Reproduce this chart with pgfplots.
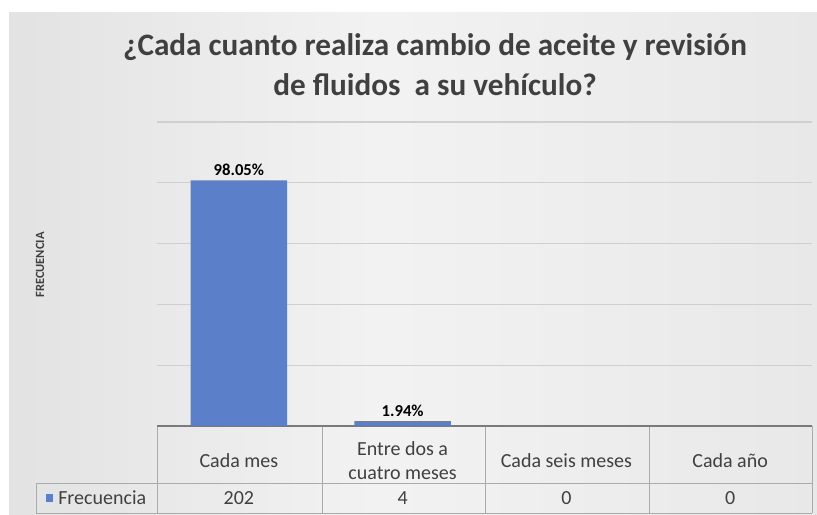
\documentclass[border=0pt]{standalone}
\usepackage{pgfplots}
\pgfplotsset{compat=1.18}
\usepackage{fontspec}
\setmainfont{Carlito}
\definecolor{barblue}{HTML}{5B7FC8}
\definecolor{txt}{HTML}{404040}
\definecolor{gridc}{HTML}{CFCFCF}
\definecolor{tline}{HTML}{ABABAB}
\definecolor{aline}{HTML}{7A7A7A}
\pgfdeclarehorizontalshading{chartbg}{100bp}{%
  color(0bp)=(black!22); color(22bp)=(black!12); color(48bp)=(black!5);
  color(75bp)=(black!9); color(100bp)=(black!16)}

\begin{document}
\begin{tikzpicture}[x=0.75pt,y=0.75pt]
% page and background (units: pixels of the 817x514 picture, y upwards)
\useasboundingbox (0,0) rectangle (817,514);
\fill[white] (0,0) rectangle (817,514);
\shade[shading=chartbg] (9,0) rectangle (817,501);

% title
\node[font=\bfseries\fontsize{23.4}{30}\selectfont, text=txt, align=center] at (435,449)
  {¿Cada cuanto realiza cambio de aceite y revisión\\de fluidos\ \ a su vehículo?};

% y label
\node[rotate=90, font=\bfseries\fontsize{9.4}{11}\selectfont, text=txt] at (40,249) {FRECUENCIA};

\begin{axis}[
  at={(117.75pt,66pt)}, anchor=south west,
  scale only axis, width=491.25pt, height=228pt,
  xmin=-0.5, xmax=3.5, ymin=0, ymax=250,
  ybar, bar width=0.59,
  ytick={50,100,...,250}, yticklabels={},
  ymajorgrids, grid style={gridc, line width=0.8pt},
  axis line style={draw=none}, major tick style={draw=none},
  xtick={0,1,2,3},
  xticklabels={Cada mes, {Entre dos a\\cuatro meses}, Cada seis meses, Cada año},
  xticklabel style={font=\fontsize{15}{18}\selectfont, text=txt, align=center,
    anchor=center, yshift=-21.4pt},
  clip=false,
  nodes near coords, point meta=explicit symbolic,
  every node near coord/.append style={font=\bfseries\fontsize{12.5}{14}\selectfont, text=black},
]
\addplot[fill=barblue, draw=none] coordinates {(0,202)[98.05\%] (1,4)[1.94\%] (2,0)[] (3,0)[]};
% data table values
\node[font=\fontsize{15}{18}\selectfont, text=txt] at (axis cs:0,0) [yshift=-54pt] {202};
\node[font=\fontsize{15}{18}\selectfont, text=txt] at (axis cs:1,0) [yshift=-54pt] {4};
\node[font=\fontsize{15}{18}\selectfont, text=txt] at (axis cs:2,0) [yshift=-54pt] {0};
\node[font=\fontsize{15}{18}\selectfont, text=txt] at (axis cs:3,0) [yshift=-54pt] {0};
\end{axis}

% data table grid
\draw[tline, line width=0.75pt] (36,31) -- (812,31);
\draw[tline, line width=0.75pt] (36,1) -- (812,1);
\draw[tline, line width=0.75pt] (36,31) -- (36,1);
\foreach \xx in {157,322,485,649,812} \draw[tline, line width=0.75pt] (\xx,88) -- (\xx,1);
\draw[aline, line width=1pt] (157,88) -- (812,88);

% legend key in the table
\fill[barblue] (46,12) rectangle (53,20);
\node[anchor=west, font=\fontsize{15}{18}\selectfont, text=txt, inner sep=0pt] at (58,16) {Frecuencia};
\end{tikzpicture}
\end{document}
